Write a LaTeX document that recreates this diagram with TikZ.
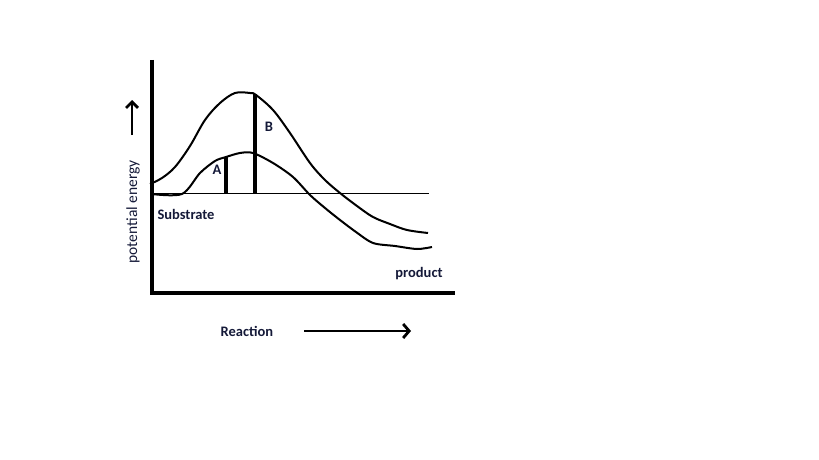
\documentclass[tikz,border=0pt]{standalone}
\usepackage{fontspec}
\setmainfont{Carlito}
\usetikzlibrary{arrows.meta}
\definecolor{labelblue}{rgb}{0.08,0.1,0.22}

\begin{document}
\begin{tikzpicture}[x=1pt, y=-1pt,
  curve/.style={line width=2pt, line join=round},
  bar/.style={line width=3.2pt},
  lbl/.style={text=labelblue, font=\bfseries\fontsize{14.5}{16}\selectfont, inner sep=0pt}]
  \useasboundingbox (0,0) rectangle (819,460);

  % axes
  \coordinate (top) at (152,60);
  \coordinate (origin) at (152,293);
  \coordinate (right) at (455,293);
  \draw[line width=3.4pt] (top) -- (origin) -- (right);

  % substrate level
  \coordinate (s0) at (150,193);
  \coordinate (s1) at (429,193);
  \draw[line width=1pt] (s0) -- (s1);

  % uncatalysed
  \draw[curve] plot[smooth, tension=0.55] coordinates {(150,184) (162,178) (175,167) (190,146)
    (205,120) (220,103) (235,93) (250,93) (256,95) (273,110) (290,133) (310,163)
    (325,180) (340,193) (357,206) (373,217) (390,224) (407,230) (428,233)};
  % catalysed
  \draw[curve] plot[smooth, tension=0.5] coordinates {(152,194) (182,194) (200,173) (215,161)
    (226,157) (240,153) (253,153) (273,163) (293,177) (310,195) (325,208) (340,220)
    (356,232) (373,243) (395,246) (417,249) (432,247)};

  % barriers
  \coordinate (a0) at (226,193);
  \coordinate (a1) at (226,157);
  \coordinate (b0) at (255,193);
  \coordinate (b1) at (255,94);
  \draw[bar] (a0) -- (a1);
  \draw[bar] (b0) -- (b1);

  \node[lbl] (A) at (217,170) {A};
  \node[lbl] (B) at (269,127) {B};
  \node[lbl] (substrate) at (186,214) {Substrate};
  \node[lbl] (product) at (419,274) {product};
  \node[lbl] (reaction) at (247,331) {Reaction};
  \node[lbl, font=\fontsize{15.5}{17}\selectfont, rotate=90] (energy) at (133,212) {potential energy};

  % direction arrows
  \coordinate (up0) at (132,135);
  \coordinate (up1) at (132,100);
  \draw[line width=2.8pt, -{Straight Barb[length=6pt, width=12pt]}] (up0) -- (up1);
  \coordinate (r0) at (304,331);
  \coordinate (r1) at (411,331);
  \draw[line width=2.8pt, -{Straight Barb[length=6pt, width=14pt]}] (r0) -- (r1);
\end{tikzpicture}
\end{document}
